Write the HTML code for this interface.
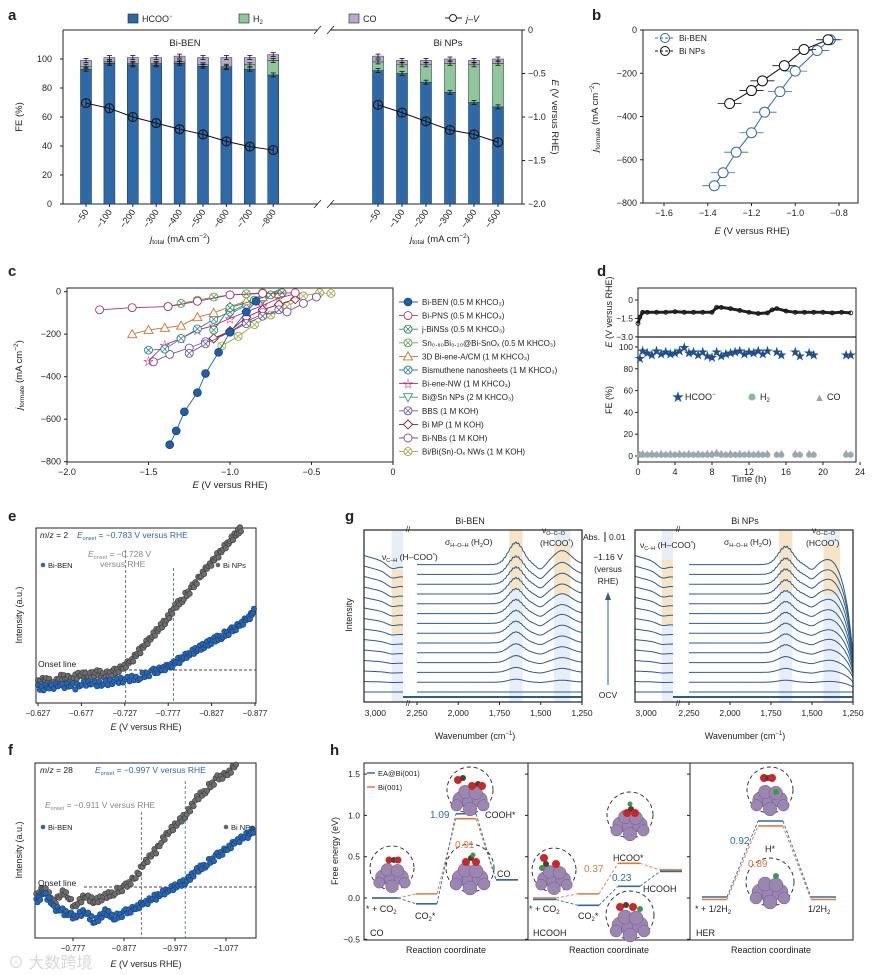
<!DOCTYPE html>
<html><head><meta charset="utf-8"><style>
html,body{margin:0;padding:0;background:#fff}
svg{display:block;font-family:"Liberation Sans","Noto Sans CJK SC",sans-serif}
text{fill:#222}
</style></head><body>
<svg id="fig" width="873" height="975" viewBox="0 0 873 975" xmlns="http://www.w3.org/2000/svg">
<g id="statics">
<g font-weight="bold" font-size="15">
<text x="8" y="20">a</text>
<text x="592" y="20">b</text>
<text x="8" y="276">c</text>
<text x="597" y="276">d</text>
<text x="8" y="521">e</text>
<text x="345" y="521">g</text>
<text x="8" y="755">f</text>
<text x="330" y="755">h</text>
</g>
<g font-size="9">
<rect x="128" y="14" width="10" height="9" fill="#2f6aa8" stroke="#222" stroke-width="0.6"/><text x="142" y="22">HCOO<tspan font-size="6" dy="-4">−</tspan></text>
<rect x="239" y="14" width="10" height="9" fill="#8fc79a" stroke="#222" stroke-width="0.6"/><text x="253" y="22">H<tspan font-size="6" dy="2">2</tspan></text>
<rect x="349" y="14" width="10" height="9" fill="#b9a9d0" stroke="#222" stroke-width="0.6"/><text x="363" y="22">CO</text>
<line x1="445" y1="18" x2="462" y2="18" stroke="#222"/><circle cx="453" cy="18" r="3.5" fill="#fff" stroke="#222"/><text x="466" y="22" font-style="italic">j–V</text>
</g>
<g font-size="9.5">
<text x="185" y="46" text-anchor="middle">Bi-BEN</text>
<text x="448" y="46" text-anchor="middle">Bi NPs</text>
<text x="22" y="117" transform="rotate(-90 22 117)" text-anchor="middle">FE (%)</text>
<text x="552" y="117" transform="rotate(90 552 117)" text-anchor="middle"><tspan font-style="italic">E</tspan> (V versus RHE)</text>
<text x="180" y="242" text-anchor="middle"><tspan font-style="italic">j</tspan><tspan font-size="6.5" dy="2">total</tspan><tspan dy="-2"> (mA cm</tspan><tspan font-size="6.5" dy="-4">−2</tspan><tspan dy="4">)</tspan></text>
<text x="440" y="242" text-anchor="middle"><tspan font-style="italic">j</tspan><tspan font-size="6.5" dy="2">total</tspan><tspan dy="-2"> (mA cm</tspan><tspan font-size="6.5" dy="-4">−2</tspan><tspan dy="4">)</tspan></text>
</g>
<g font-size="9.5">
<text x="598" y="117" transform="rotate(-90 598 117)" text-anchor="middle"><tspan font-style="italic">j</tspan><tspan font-size="6.5" dy="2">formate</tspan><tspan dy="-2"> (mA cm</tspan><tspan font-size="6.5" dy="-4">−2</tspan><tspan dy="4">)</tspan></text>
<text x="752" y="234" text-anchor="middle"><tspan font-style="italic">E</tspan> (V versus RHE)</text>
<line x1="655" y1="38" x2="675" y2="38" stroke="#2f6aa8" stroke-dasharray="3,2"/><circle cx="665" cy="38" r="4.5" fill="none" stroke="#2f6aa8"/><text x="679" y="41" font-size="8.5">Bi-BEN</text>
<line x1="655" y1="51" x2="675" y2="51" stroke="#111" stroke-dasharray="3,2"/><circle cx="665" cy="51" r="4.5" fill="none" stroke="#111"/><text x="679" y="54" font-size="8.5">Bi NPs</text>
</g>
<g font-size="9.5">
<text x="22" y="375" transform="rotate(-90 22 375)" text-anchor="middle"><tspan font-style="italic">j</tspan><tspan font-size="6.5" dy="2">formate</tspan><tspan dy="-2"> (mA cm</tspan><tspan font-size="6.5" dy="-4">−2</tspan><tspan dy="4">)</tspan></text>
<text x="230" y="488" text-anchor="middle"><tspan font-style="italic">E</tspan> (V versus RHE)</text>
</g>
<g font-size="9">
<text x="612" y="312" transform="rotate(-90 612 312)" text-anchor="middle"><tspan font-style="italic">E</tspan> (V versus RHE)</text>
<text x="612" y="400" transform="rotate(-90 612 400)" text-anchor="middle">FE (%)</text>
<text x="749" y="482" text-anchor="middle" font-size="9.5">Time (h)</text>
<text x="672" y="401" font-size="12" style="fill:#1f4f8f">★</text><text x="685" y="400">HCOO<tspan font-size="6" dy="-4">−</tspan></text>
<circle cx="752" cy="397" r="3.5" fill="#7fc08f"/><text x="760" y="400">H<tspan font-size="6" dy="2">2</tspan></text>
<text x="814" y="401" font-size="11" style="fill:#a99bc6">▲</text><text x="827" y="400">CO</text>
</g>
<g font-size="8.5">
<text x="40" y="538"><tspan font-style="italic">m</tspan>/<tspan font-style="italic">z</tspan> = 2 </text>
<text x="77" y="538" style="fill:#2f6aa8"><tspan font-style="italic">E</tspan><tspan font-size="5.5" dy="2">onset</tspan><tspan dy="-2"> = −0.783 V versus RHE</tspan></text>
<text x="88" y="557" style="fill:#888"><tspan font-style="italic">E</tspan><tspan font-size="5.5" dy="2">onset</tspan><tspan dy="-2"> = −0.728 V</tspan></text>
<text x="100" y="567" style="fill:#888">versus RHE</text>
<circle cx="43" cy="565" r="2.3" fill="#2a66b0"/><text x="48" y="568" font-size="7.5">Bi-BEN</text>
<circle cx="218" cy="565" r="2.3" fill="#666"/><text x="223" y="568" font-size="7.5">Bi NPs</text>
<text x="38" y="667">Onset line</text>
<text x="22" y="615" transform="rotate(-90 22 615)" text-anchor="middle" font-size="9">Intensity (a.u.)</text>
<text x="146" y="730" text-anchor="middle" font-size="9"><tspan font-style="italic">E</tspan> (V versus RHE)</text>
</g>
<g font-size="8.5">
<text x="40" y="773"><tspan font-style="italic">m</tspan>/<tspan font-style="italic">z</tspan> = 28</text>
<text x="95" y="773" style="fill:#2f6aa8"><tspan font-style="italic">E</tspan><tspan font-size="5.5" dy="2">onset</tspan><tspan dy="-2"> = −0.997 V versus RHE</tspan></text>
<text x="45" y="808" style="fill:#888"><tspan font-style="italic">E</tspan><tspan font-size="5.5" dy="2">onset</tspan><tspan dy="-2"> = −0.911 V versus RHE</tspan></text>
<circle cx="43" cy="827" r="2.3" fill="#2a66b0"/><text x="48" y="830" font-size="7.5">Bi-BEN</text>
<circle cx="226" cy="827" r="2.3" fill="#666"/><text x="231" y="830" font-size="7.5">Bi NPs</text>
<text x="38" y="886">Onset line</text>
<text x="22" y="850" transform="rotate(-90 22 850)" text-anchor="middle" font-size="9">Intensity (a.u.)</text>
<text x="146" y="967" text-anchor="middle" font-size="9"><tspan font-style="italic">E</tspan> (V versus RHE)</text>
</g>
<g font-size="9">
<text x="470" y="524" text-anchor="middle">Bi-BEN</text>
<text x="745" y="524" text-anchor="middle">Bi NPs</text>
<text x="352" y="615" transform="rotate(-90 352 615)" text-anchor="middle">Intensity</text>
<text x="475" y="739" text-anchor="middle">Wavenumber (cm<tspan font-size="6" dy="-4">−1</tspan><tspan dy="4">)</tspan></text>
<text x="745" y="739" text-anchor="middle">Wavenumber (cm<tspan font-size="6" dy="-4">−1</tspan><tspan dy="4">)</tspan></text>
<text x="583" y="540" font-size="8.5">Abs.</text><line x1="605" y1="532" x2="605" y2="542" stroke="#222"/><text x="609" y="540" font-size="8.5">0.01</text>
<text x="608" y="560" text-anchor="middle" font-size="8.5">−1.16 V</text>
<text x="608" y="572" text-anchor="middle" font-size="8.5">(versus</text>
<text x="608" y="584" text-anchor="middle" font-size="8.5">RHE)</text>
<line x1="608" y1="685" x2="608" y2="596" stroke="#2f5f8f"/><path d="M605,600 L608,592 L611,600 Z" fill="#2f5f8f"/>
<text x="608" y="698" text-anchor="middle" font-size="8.5">OCV</text>
<text x="382" y="560" font-size="8.5">ν<tspan font-size="5.5" dy="2">C–H</tspan><tspan dy="-2"> (H–COO</tspan><tspan font-size="5.5" dy="-3">*</tspan><tspan dy="3">)</tspan></text>
<text x="445" y="545" font-size="8.5">σ<tspan font-size="5.5" dy="2">H–O–H</tspan><tspan dy="-2"> (H</tspan><tspan font-size="5.5" dy="2">2</tspan><tspan dy="-2">O)</tspan></text>
<text x="542" y="533" font-size="8.5">ν<tspan font-size="5.5" dy="2">O–C–O</tspan></text>
<text x="540" y="546" font-size="8.5">(HCOO<tspan font-size="5.5" dy="-3">*</tspan><tspan dy="3">)</tspan></text>
<text x="640" y="548" font-size="8.5">ν<tspan font-size="5.5" dy="2">C–H</tspan><tspan dy="-2"> (H–COO</tspan><tspan font-size="5.5" dy="-3">*</tspan><tspan dy="3">)</tspan></text>
<text x="724" y="545" font-size="8.5">σ<tspan font-size="5.5" dy="2">H–O–H</tspan><tspan dy="-2"> (H</tspan><tspan font-size="5.5" dy="2">2</tspan><tspan dy="-2">O)</tspan></text>
<text x="812" y="533" font-size="8.5">ν<tspan font-size="5.5" dy="2">O–C–O</tspan></text>
<text x="806" y="546" font-size="8.5">(HCOO<tspan font-size="5.5" dy="-3">*</tspan><tspan dy="3">)</tspan></text>
</g>
<g font-size="9">
<text x="338" y="851" transform="rotate(-90 338 851)" text-anchor="middle">Free energy (eV)</text>
<line x1="367" y1="773" x2="375" y2="773" stroke="#2f6aa8" stroke-width="1.5"/><text x="378" y="776" font-size="7.5">EA@Bi(001)</text>
<line x1="367" y1="787" x2="375" y2="787" stroke="#e07a3c" stroke-width="1.5"/><text x="378" y="790" font-size="7.5">Bi(001)</text>
<text x="370" y="936">CO</text><text x="533" y="936">HCOOH</text><text x="696" y="936">HER</text>
<text x="446" y="953" text-anchor="middle">Reaction coordinate</text>
<text x="609" y="953" text-anchor="middle">Reaction coordinate</text>
<text x="771" y="953" text-anchor="middle">Reaction coordinate</text>
<text x="430" y="818" style="fill:#2f6aa8" font-size="10">1.09</text>
<text x="455" y="848" style="fill:#e07a3c" font-size="10">0.91</text>
<text x="485" y="818">COOH*</text>
<text x="497" y="877">CO</text>
<text x="366" y="912">* + CO<tspan font-size="6" dy="2">2</tspan></text>
<text x="415" y="919">CO<tspan font-size="6" dy="2">2</tspan><tspan dy="-2">*</tspan></text>
<text x="584" y="872" style="fill:#e07a3c" font-size="10">0.37</text>
<text x="612" y="881" style="fill:#2f6aa8" font-size="10">0.23</text>
<text x="613" y="861">HCOO*</text>
<text x="643" y="892">HCOOH</text>
<text x="529" y="912">* + CO<tspan font-size="6" dy="2">2</tspan></text>
<text x="578" y="919">CO<tspan font-size="6" dy="2">2</tspan><tspan dy="-2">*</tspan></text>
<text x="730" y="844" style="fill:#2f6aa8" font-size="10">0.92</text>
<text x="765" y="852">H*</text>
<text x="748" y="867" style="fill:#e07a3c" font-size="10">0.89</text>
<text x="695" y="912">* + 1/2H<tspan font-size="6" dy="2">2</tspan></text>
<text x="808" y="912">1/2H<tspan font-size="6" dy="2">2</tspan></text>
</g>
<text x="8" y="968" font-size="16" style="fill:#d8d8d8">⊙ 大数跨境</text>
</g>
</svg>
<script>
const NS='http://www.w3.org/2000/svg';
const svg=document.getElementById('fig');
function mk(tag,attrs,name){
  const e=document.createElementNS(NS,tag);
  for(const k in attrs) e.setAttribute(k,attrs[k]);
  
  
  svg.appendChild(e);return e;
}
function txt(x,y,s,size,anchor,name,color){
  const e=mk('text',{x:x,y:y,'font-size':size,'text-anchor':anchor||'start'},name);
  if(color) e.style.fill=color;
  e.textContent=s;return e;
}
function line(x1,y1,x2,y2,st,w,dash,name){
  const a={x1:x1,y1:y1,x2:x2,y2:y2,stroke:st,'stroke-width':w||1};
  if(dash) a['stroke-dasharray']=dash;
  return mk('line',a,name);
}

/* ===== Panel a data ===== */
const aCatsL=['−50','−100','−200','−300','−400','−500','−600','−700','−800'];
const aHcooL=[93,97,96,96,97,95,94,93,89];
const aH2L=[2,1,1,1,1,1,1,3,10];
const aCoL=[4,3,4,4,4,5,6,5,4];
const aEL=[-0.84,-0.90,-1.00,-1.07,-1.14,-1.20,-1.28,-1.34,-1.38];
const aCatsR=['−50','−100','−200','−300','−400','−500'];
const aHcooR=[92,90,84,77,70,67];
const aH2R=[6,6,12,20,26,30];
const aCoR=[4,3,3,3,3,3];
const aER=[-0.86,-0.95,-1.05,-1.15,-1.20,-1.29];
const aFETicks=[0,20,40,60,80,100];
const aETicks=['0','−0.5','−1.0','−1.5','−2.0'];

const aFy=v=>204-v*1.45;
const aEy=v=>30+(-v)*87;
line(63,30,63,204,'#222',1,null,'a-left-axis');
line(522,30,522,204,'#222',1,null,'a-right-axis');
line(63,30,318,30,'#222',1,null,'a-top-frame');line(330,30,522,30,'#222',1,null,'a-top-frame');
line(63,204,318,204,'#222',1,null,'a-x-axis');line(330,204,522,204,'#222',1,null,'a-x-axis');
[30,204].forEach(y=>{line(314,y+4,321,y-4,'#222',0.8,null,'a-break-mark');line(327,y+4,334,y-4,'#222',0.8,null,'a-break-mark');});
aFETicks.forEach(v=>{line(60,aFy(v),63,aFy(v),'#222',1,null,'a-fe-tick');txt(52,aFy(v)+3,String(v),9,'end','a-fe-tick-label');});
aETicks.forEach((s,i)=>{const y=aEy(-0.5*i);line(522,y,525,y,'#222',1,null,'a-e-tick');txt(528,y+3,s,9,'start','a-e-tick-label');});
function drawA(cats,hc,h2,co,E,x0,dx,side){
  const pts=[];
  cats.forEach((c,i)=>{
    const x=x0+i*dx, w=11;
    mk('rect',{x:x-w/2,y:aFy(hc[i]),width:w,height:aFy(0)-aFy(hc[i]),fill:'#2f6aa8',stroke:'#1a2a40','stroke-width':0.5},'bar-hcoo-'+side);
    mk('rect',{x:x-w/2,y:aFy(hc[i]+h2[i]),width:w,height:aFy(hc[i])-aFy(hc[i]+h2[i]),fill:'#8fc79a',stroke:'#1a2a40','stroke-width':0.5},'bar-h2-'+side);
    mk('rect',{x:x-w/2,y:aFy(hc[i]+h2[i]+co[i]),width:w,height:aFy(hc[i]+h2[i])-aFy(hc[i]+h2[i]+co[i]),fill:'#b9a9d0',stroke:'#1a2a40','stroke-width':0.5},'bar-co-'+side);
    [hc[i],hc[i]+h2[i],hc[i]+h2[i]+co[i]].forEach(v=>{line(x,aFy(v)-2,x,aFy(v)+2,'#111',0.8,null,'error-bar');line(x-2.5,aFy(v)-2,x+2.5,aFy(v)-2,'#111',0.8,null,'error-cap');line(x-2.5,aFy(v)+2,x+2.5,aFy(v)+2,'#111',0.8,null,'error-cap');});
    line(x,204,x,207,'#222',1,null,'a-x-tick');
    const t=txt(x+3,212,c,9,'end','a-x-tick-label');
    t.setAttribute('transform','rotate(-55 '+(x+3)+' 212)');
    pts.push([x,aEy(E[i])]);
  });
  mk('polyline',{points:pts.map(p=>p.join(',')).join(' '),fill:'none',stroke:'#111','stroke-width':1},'jv-line-'+side);
  pts.forEach(p=>{line(p[0],p[1]-5,p[0],p[1]+5,'#111',0.8,null,'jv-error');mk('circle',{cx:p[0],cy:p[1],r:4.5,fill:'none',stroke:'#111','stroke-width':1},'jv-point-'+side);});
}
drawA(aCatsL,aHcooL,aH2L,aCoL,aEL,86,23.4,'bi-ben');
drawA(aCatsR,aHcooR,aH2R,aCoR,aER,378,24,'bi-nps');

/* ===== Panel b data ===== */
const bBenE=[-0.84,-0.90,-1.00,-1.07,-1.14,-1.20,-1.27,-1.33,-1.37];
const bBenJ=[-45,-95,-190,-285,-380,-475,-565,-660,-720];
const bNpE=[-0.85,-0.96,-1.05,-1.15,-1.20,-1.30];
const bNpJ=[-45,-90,-165,-235,-280,-340];
const bXTicks=[-1.6,-1.4,-1.2,-1.0,-0.8];
const bYTicks=[0,-200,-400,-600,-800];
const bx=v=>664+(v+1.6)*218.75, by=v=>30+(-v)/800*173;
mk('rect',{x:643,y:30,width:215,height:173,fill:'none',stroke:'#222','stroke-width':1},'b-frame');
bXTicks.forEach(v=>{line(bx(v),203,bx(v),206,'#222',1,null,'b-x-tick');txt(bx(v),216,(v<0?'−':'')+Math.abs(v).toFixed(1),9,'middle','b-x-tick-label');});
bYTicks.forEach(v=>{line(640,by(v),643,by(v),'#222',1,null,'b-y-tick');txt(637,by(v)+3,(v<0?'−':'')+Math.abs(v),9,'end','b-y-tick-label');});
function drawB(E,J,col,name){
  mk('polyline',{points:E.map((e,i)=>bx(e)+','+by(J[i])).join(' '),fill:'none',stroke:col,'stroke-width':1},name+'-line');
  E.forEach((e,i)=>{const x=bx(e),y=by(J[i]);line(x-12,y,x+12,y,col,0.8,null,name+'-error');
    mk('circle',{cx:x,cy:y,r:5,fill:'#fff',stroke:col,'stroke-width':1},name+'-point');});
}
drawB(bBenE,bBenJ,'#2f6aa8','b-bi-ben');
drawB(bNpE,bNpJ,'#111','b-bi-nps');

/* ===== Panel c data ===== */
const cNames=['Bi-BEN (0.5 M KHCO₃)','Bi-PNS (0.5 M KHCO₃)','j-BiNSs (0.5 M KHCO₃)','Sn₀.₈₀Bi₀.₂₀@Bi-SnOₓ (0.5 M KHCO₃)','3D Bi-ene-A/CM (1 M KHCO₃)','Bismuthene nanosheets (1 M KHCO₃)','Bi-ene-NW (1 M KHCO₃)','Bi@Sn NPs (2 M KHCO₃)','BBS (1 M KOH)','Bi MP (1 M KOH)','Bi-NBs (1 M KOH)','Bi/Bi(Sn)-Oₓ NWs (1 M KOH)'];
const cColors=['#1f5fa8','#b0306a','#2a8a5a','#5aa050','#d07030','#3080a0','#c02070','#3a9a70','#6a5aa0','#8a1a2a','#7a4aa0','#9aaa40'];
const cE0=[-1.37,-1.33,-1.28,-1.20,-1.15,-1.07,-1.00,-0.90,-0.84];
const cJ0=[-720,-655,-565,-475,-385,-285,-190,-95,-45];
const cE1=[-1.80,-1.60,-1.38,-1.20,-1.00,-0.80,-0.60];
const cJ1=[-85,-75,-70,-45,-15,-8,-5];
const cE2=[-1.10,-1.00,-0.85,-0.75,-0.68];
const cJ2=[-180,-75,-40,-15,-5];
const cE3=[-1.38,-1.30,-1.20,-1.10,-1.00,-0.90,-0.80];
const cJ3=[-70,-55,-40,-25,-15,-10,-5];
const cE4=[-1.60,-1.50,-1.40,-1.30,-1.20,-1.10,-1.00,-0.90,-0.80,-0.70];
const cJ4=[-200,-180,-170,-160,-120,-100,-70,-45,-25,-10];
const cE5=[-1.50,-1.40,-1.30,-1.20,-1.10,-1.00,-0.90,-0.80,-0.70];
const cJ5=[-275,-270,-220,-175,-130,-95,-60,-30,-10];
const cE6=[-1.50,-1.40,-1.30,-1.20,-1.10,-1.00,-0.90,-0.80,-0.70,-0.60];
const cJ6=[-325,-250,-220,-180,-160,-125,-95,-65,-30,-10];
const cE7=[-1.00,-0.90,-0.80,-0.70];
const cJ7=[-105,-65,-40,-15];
const cE8=[-1.25,-1.15,-1.00,-0.90,-0.80,-0.70];
const cJ8=[-290,-245,-190,-150,-115,-85];
const cE9=[-1.10,-1.00,-0.90,-0.80,-0.70,-0.60];
const cJ9=[-220,-185,-120,-85,-60,-35];
const cE10=[-1.47,-1.37,-1.25,-1.15,-1.00,-0.90,-0.80,-0.65,-0.55,-0.47];
const cJ10=[-330,-295,-265,-235,-190,-140,-105,-95,-55,-25];
const cE11=[-1.05,-0.95,-0.85,-0.75,-0.65,-0.55,-0.45,-0.38];
const cJ11=[-255,-210,-155,-110,-70,-20,-5,-8];
const cXTicks=[-2.0,-1.5,-1.0,-0.5,0];
const cYTicks=[0,-200,-400,-600,-800];
const cEs=[cE0,cE1,cE2,cE3,cE4,cE5,cE6,cE7,cE8,cE9,cE10,cE11];
const cJs=[cJ0,cJ1,cJ2,cJ3,cJ4,cJ5,cJ6,cJ7,cJ8,cJ9,cJ10,cJ11];
const cx_=v=>393+v*163, cy_=v=>291.7-v*(170/800);
mk('rect',{x:67,y:288,width:326,height:174,fill:'none',stroke:'#222','stroke-width':1},'c-frame');
cXTicks.forEach(v=>{line(cx_(v),462,cx_(v),465,'#222',1,null,'c-x-tick');txt(cx_(v),475,v===0?'0':'−'+Math.abs(v).toFixed(1),9,'middle','c-x-tick-label');});
cYTicks.forEach(v=>{line(64,cy_(v),67,cy_(v),'#222',1,null,'c-y-tick');txt(61,cy_(v)+3,(v<0?'−':'')+Math.abs(v),9,'end','c-y-tick-label');});
function marker(x,y,k,col,name){
  if(k===0){mk('circle',{cx:x,cy:y,r:4,fill:col,stroke:'#0d3366','stroke-width':0.6},name);return;}
  if(k===4||k===7){const d=k===4?'M'+x+','+(y-4.5)+' L'+(x+4.5)+','+(y+3.5)+' L'+(x-4.5)+','+(y+3.5)+'Z':'M'+x+','+(y+4.5)+' L'+(x+4.5)+','+(y-3.5)+' L'+(x-4.5)+','+(y-3.5)+'Z';mk('path',{d:d,fill:'#fff',stroke:col,'stroke-width':0.9},name);return;}
  if(k===9){mk('path',{d:'M'+x+','+(y-4.5)+' L'+(x+4.5)+','+y+' L'+x+','+(y+4.5)+' L'+(x-4.5)+','+y+'Z',fill:'#fff',stroke:col,'stroke-width':0.9},name);return;}
  if(k===6){const t=mk('text',{x:x,y:y+4,'font-size':11,'text-anchor':'middle'},name);t.style.fill=col;t.textContent='☆';return;}
  mk('circle',{cx:x,cy:y,r:4,fill:'#fff',stroke:col,'stroke-width':0.9},name);
  if(k===2||k===3||k===5||k===8||k===11){line(x-2.8,y-2.8,x+2.8,y+2.8,col,0.8,null,name+'-x');line(x-2.8,y+2.8,x+2.8,y-2.8,col,0.8,null,name+'-x');}
}
for(let k=cEs.length-1;k>=0;k--){
  const E=cEs[k],J=cJs[k],col=cColors[k];
  mk('polyline',{points:E.map((e,i)=>cx_(e)+','+cy_(J[i])).join(' '),fill:'none',stroke:col,'stroke-width':0.9},'c-series-line-'+k);
  E.forEach((e,i)=>marker(cx_(e),cy_(J[i]),k,col,'c-point-'+k));
}
cNames.forEach((n,k)=>{const y=302+k*13.6;line(399,y,418,y,cColors[k],0.9,null,'c-legend-line');marker(408,y,k,cColors[k],'c-legend-marker');txt(422,y+3,n,8,'start','c-legend-entry');});

/* ===== Panel d data ===== */
const dETimes=[0,0.2,0.5,1,2,3,4,5,6,7,8,8.5,9,10,11,12,13,14,14.5,15,16,17,18,19,20,21,22,23];
const dEVals=[-1.9,-1.4,-1.0,-1.0,-1.0,-1.0,-0.95,-1.0,-1.0,-1.0,-1.0,-0.6,-0.6,-0.7,-0.85,-1.0,-1.1,-1.05,-0.8,-0.7,-0.9,-1.0,-1.0,-1.0,-1.0,-1.05,-1.0,-1.05];
const dFTimes=[0.2,0.5,1,1.5,2,2.5,3,3.5,4,4.5,5,5.5,6,6.5,7,7.5,8,8.5,9,9.5,10,10.5,11,11.5,12,12.5,13,13.5,14,15,15.5,17,17.5,18.5,19,22.5,23];
const dHcoo=[90,97,95,93,97,94,96,94,95,97,100,95,96,93,96,92,91,96,92,94,95,96,97,94,96,95,97,94,97,96,93,96,92,95,93,93,93];
const dH2=[1,1,1,1,1,1,1,1,1,1,1,1,1,1,1,1,1,2,1,1,1,1,1,1,1,1,1,1,1,1,1,1,1,1,1,1,1];
const dCo=[3,4,3,4,3,4,3,4,3,4,3,4,3,4,3,4,4,5,4,3,4,3,4,3,4,3,4,3,4,3,4,4,3,4,3,4,3];
const dXTicks=[0,4,8,12,16,20,24];
const dx_=t=>638+t*9.25, dEy=v=>300-v*12.3, dFy=v=>456-v*1.09;
mk('rect',{x:638,y:288,width:218,height:174,fill:'none',stroke:'#222','stroke-width':1},'d-frame');
line(638,337,856,337,'#222',1.2,null,'d-divider');
dXTicks.forEach(t=>{line(dx_(t),462,dx_(t),465,'#222',1,null,'d-x-tick');txt(dx_(t),475,String(t),9,'middle','d-x-tick-label');});
[[0,'0'],[-1.5,'−1.5'],[-3.0,'−3.0']].forEach(p=>{line(635,dEy(p[0]),638,dEy(p[0]),'#222',1,null,'d-e-tick');txt(633,dEy(p[0])+3,p[1],8.5,'end','d-e-tick-label');});
[0,20,40,60,80,100].forEach(v=>{line(635,dFy(v),638,dFy(v),'#222',1,null,'d-fe-tick');txt(633,dFy(v)+3,String(v),8.5,'end','d-fe-tick-label');});
mk('polyline',{points:dETimes.map((t,i)=>dx_(t)+','+dEy(dEVals[i])).join(' '),fill:'none',stroke:'#222','stroke-width':3},'d-potential-trace');
dETimes.forEach((t,i)=>mk('circle',{cx:dx_(t),cy:dEy(dEVals[i]),r:2,fill:'none',stroke:'#111','stroke-width':0.8},'d-potential-point'));
dFTimes.forEach((t,i)=>{
  txt(dx_(t),dFy(dHcoo[i])+4,'★',11,'middle','d-hcoo-star','#1f4f8f');
  mk('circle',{cx:dx_(t),cy:dFy(dH2[i]),r:3,fill:'#7fc08f'},'d-h2-point');
  txt(dx_(t),dFy(dCo[i])+4,'▲',10,'middle','d-co-triangle','#a99bc6');
});

/* ===== Panel e data ===== */
const eNpE=[-0.627,-0.635,-0.645,-0.655,-0.665,-0.675,-0.685,-0.695,-0.705,-0.715,-0.725,-0.735,-0.745,-0.755,-0.765,-0.775,-0.785,-0.795,-0.805,-0.815,-0.825,-0.835,-0.845,-0.855,-0.862];
const eNpI=[0.6,0.75,0.6,0.8,0.7,0.85,0.8,0.9,0.85,0.95,1.1,1.3,1.6,1.9,2.2,2.5,2.9,3.2,3.5,3.9,4.2,4.5,4.8,5.1,5.3];
const eBenE=[-0.627,-0.64,-0.655,-0.67,-0.685,-0.70,-0.715,-0.73,-0.745,-0.76,-0.77,-0.78,-0.79,-0.80,-0.81,-0.82,-0.83,-0.84,-0.85,-0.86,-0.87,-0.877];
const eBenI=[0.45,0.5,0.55,0.5,0.6,0.55,0.65,0.7,0.8,0.95,1.05,1.15,1.3,1.45,1.6,1.75,1.9,2.05,2.2,2.4,2.6,2.8];
const eXTicks=[-0.627,-0.677,-0.727,-0.777,-0.827,-0.877];
const ex_=v=>38+(-0.627-v)/0.25*217, ey_=v=>703-v*33;
mk('rect',{x:36,y:528,width:220,height:175,fill:'none',stroke:'#222','stroke-width':1},'e-frame');
eXTicks.forEach(v=>{line(ex_(v),703,ex_(v),706,'#222',1,null,'e-x-tick');txt(ex_(v),716,'−'+Math.abs(v).toFixed(3),8,'middle','e-x-tick-label');});
line(84,670,256,670,'#444',1,'3,2','e-onset-line');
line(ex_(-0.728),550,ex_(-0.728),703,'#555',0.8,'3,2','e-onset-gray');
line(ex_(-0.783),568,ex_(-0.783),703,'#2f6aa8',0.8,'3,2','e-onset-blue');
const jit=[-3,2,-1,3,-2,1,0,-3,2];
function scatter(E,I,fx,fy,fill,st,name){
  for(let i=0;i<E.length-1;i++){
    for(let s=0;s<6;s++){
      const f=s/6, x=fx(E[i]+(E[i+1]-E[i])*f), y=fy(I[i]+(I[i+1]-I[i])*f)+jit[(i+s)%9];
      mk('circle',{cx:x,cy:y,r:2.7,fill:fill,stroke:st,'stroke-width':0.6},name);
    }
  }
}
scatter(eNpE,eNpI,ex_,ey_,'#6e6e6e','#3a3a3a','e-bi-nps-point');
scatter(eBenE,eBenI,ex_,ey_,'#2a66b0','#123f78','e-bi-ben-point');

/* ===== Panel f data ===== */
const fNpE=[-0.705,-0.72,-0.74,-0.76,-0.78,-0.80,-0.82,-0.84,-0.86,-0.88,-0.90,-0.92,-0.94,-0.96,-0.98,-1.00,-1.02,-1.04,-1.06,-1.08,-1.10];
const fNpI=[0.8,1.0,0.7,0.9,0.6,0.8,0.7,0.8,0.9,1.0,1.2,1.5,1.7,2.0,2.2,2.4,2.7,2.9,3.1,3.2,3.4];
const fBenE=[-0.705,-0.72,-0.74,-0.76,-0.78,-0.80,-0.82,-0.84,-0.86,-0.88,-0.90,-0.92,-0.94,-0.96,-0.98,-1.00,-1.02,-1.04,-1.06,-1.08,-1.10,-1.12,-1.133];
const fBenI=[0.7,0.9,0.6,0.5,0.4,0.5,0.3,0.5,0.4,0.5,0.6,0.7,0.8,0.9,1.0,1.1,1.3,1.45,1.6,1.75,1.9,2.0,2.1];
const fXTicks=[-0.777,-0.877,-0.977,-1.077];
const fx_=v=>73+(-0.777-v)/0.1*51, fy_=v=>938-v*51.5;
mk('rect',{x:35,y:763,width:221,height:175,fill:'none',stroke:'#222','stroke-width':1},'f-frame');
fXTicks.forEach(v=>{line(fx_(v),938,fx_(v),941,'#222',1,null,'f-x-tick');txt(fx_(v),951,'−'+Math.abs(v).toFixed(3),8,'middle','f-x-tick-label');});
line(84,887,256,887,'#444',1,'3,2','f-onset-line');
line(fx_(-0.911),812,fx_(-0.911),938,'#555',0.8,'3,2','f-onset-gray');
line(fx_(-0.997),781,fx_(-0.997),938,'#2f6aa8',0.8,'3,2','f-onset-blue');
scatter(fNpE,fNpI,fx_,fy_,'#6e6e6e','#3a3a3a','f-bi-nps-point');
scatter(fBenE,fBenI,fx_,fy_,'#2a66b0','#123f78','f-bi-ben-point');

/* ===== Panel g data ===== */
const gBenPeak1650=[0,3,5,7,9,11,12,13,14,15,16,17,18,22];
const gBenPeak1390=[0,2,4,5,6,7,8,9,9,10,10,11,12,14];
const gNpPeak1650=[0,2,4,6,8,9,10,11,12,13,14,15,16,18];
const gNpPeak1380=[0,1,2,3,4,5,5,6,6,7,7,8,8,9];
const gNpEndDrop=[0,5,10,15,22,29,36,43,50,57,64,72,82,95];
const gXTicks=[2250,2000,1750,1500,1250];
const gauss=(w,c,s)=>Math.exp(-((w-c)*(w-c))/(2*s*s));
function gPanel(x0,brk,xs,xe,peaksA,peaksB,drop,pA,pB,name){
  const wx=w=>xs+(2250-w)/1000*(xe-xs);
  const lx=w=>x0+(3070-w)/240*(brk-x0);
  mk('rect',{x:lx(2900),y:530,width:brk-lx(2900),height:172,fill:'#e7eef7'},name+'-band-ch');
  mk('rect',{x:lx(2900),y:530+(name==='g-bi-ben'?40:30),width:brk-lx(2900),height:65,fill:'#f6e4c4'},name+'-band-ch-top');
  mk('rect',{x:wx(pA+40),y:530,width:wx(pA-40)-wx(pA+40),height:172,fill:'#e7eef7'},name+'-band-water');
  mk('rect',{x:wx(pA+40),y:530,width:wx(pA-40)-wx(pA+40),height:60,fill:'#f6e4c4'},name+'-band-water-top');
  mk('rect',{x:wx(pB+50),y:530,width:wx(pB-50)-wx(pB+50),height:172,fill:'#e7eef7'},name+'-band-ococ');
  mk('rect',{x:wx(pB+50),y:545,width:wx(pB-50)-wx(pB+50),height:50,fill:'#f6e4c4'},name+'-band-ococ-top');
  for(let i=0;i<14;i++){
    const base=692-i*9.8;
    let p1='',p2='';
    for(let w=3070;w>=2830;w-=10){const y=base+i*0.9*(3070-w)/240 - i*0.7 + 4.5*i/13*gauss(w,2900,30);p1+=(p1?' L':'M')+lx(w).toFixed(1)+','+y.toFixed(1);}
    for(let w=2250;w>=1250;w-=5){
      let y=base - peaksA[i]*gauss(w,pA,45) - peaksB[i]*gauss(w,pB,55) + i*0.4*gauss(w,1500,25)
        - Math.sin(w*0.9)*0.9*(i/13)*gauss(w,pA,70) + drop[i]*Math.exp(-(w-1250)/45);
      p2+=(p2?' L':'M')+wx(w).toFixed(1)+','+y.toFixed(1);
    }
    mk('path',{d:p1,fill:'none',stroke:'#2a5d8f','stroke-width':1},name+'-spectrum');
    mk('path',{d:p2,fill:'none',stroke:'#2a5d8f','stroke-width':1},name+'-spectrum');
  }
  mk('rect',{x:x0,y:530,width:xe-x0,height:172,fill:'none',stroke:'#222','stroke-width':1.2},name+'-frame');
  mk('rect',{x:brk+1,y:531,width:xs-brk-3,height:170,fill:'#fff'},name+'-break-gap');
  line(brk,697,xe,697,'#2a5d8f',2,null,name+'-ocv-line');
  txt(lx(3000),716,'3,000',8.5,'middle',name+'-x-tick-label');
  gXTicks.forEach(v=>{line(wx(v),702,wx(v),705,'#222',1,null,name+'-x-tick');txt(wx(v),716,v.toLocaleString('en-US'),8.5,'middle',name+'-x-tick-label');});
  txt(brk+5,706,'//',8,'middle',name+'-axis-break');
  txt(brk+5,532,'//',8,'middle',name+'-axis-break');
}
gPanel(364,403,417,582,gBenPeak1650,gBenPeak1390,gBenPeak1650.map(()=>0),1650,1370,'g-bi-ben');
gPanel(635,673,689,853,gNpPeak1650,gNpPeak1380,gNpEndDrop,1660,1380,'g-bi-nps');

/* ===== Panel h data ===== */
const hCoBlue=[0,-0.07,1.02,0.22];
const hCoOrange=[0,0.05,0.96,0.22];
const hHcoohBlue=[0,-0.07,0.16,0.34];
const hHcoohOrange=[0,0.05,0.42,0.34];
const hHerBlue=[0,0.92,0];
const hHerOrange=[0,0.89,0];
const hYTicks=[1.5,1.0,0.5,0,-0.5];
const hy=v=>898-v*82.6;
mk('rect',{x:364,y:763,width:489,height:177,fill:'none',stroke:'#222','stroke-width':1},'h-frame');
line(528,763,528,940,'#222',1,null,'h-divider');line(690,763,690,940,'#222',1,null,'h-divider');
hYTicks.forEach(v=>{line(364,hy(v),367,hy(v),'#222',1,null,'h-y-tick');txt(360,hy(v)+3,(v<0?'−':'')+Math.abs(v).toFixed(1),8.5,'end','h-y-tick-label');
  [528,690].forEach(x=>line(x-3,hy(v),x,hy(v),'#222',1,null,'h-y-tick'));});
function levels(vals,slots,col,dash,name,off){
  vals.forEach((v,i)=>{
    line(slots[i][0],hy(v)+off,slots[i][1],hy(v)+off,col,1.6,null,name+'-level');
    if(i>0) line(slots[i-1][1],hy(vals[i-1])+off,slots[i][0],hy(v)+off,col,0.9,dash,name+'-connector');
  });
}
const slotsCo=[[372,398],[416,437],[456,476],[496,518]];
const slotsH=[[533,556],[578,599],[618,640],[660,682]];
const slotsHer=[[702,727],[758,783],[811,836]];
levels(hCoOrange,slotsCo,'#e07a3c','3,2','h-co-bi001',0);
levels(hCoBlue,slotsCo,'#2f6aa8','3,2','h-co-ea',0);
levels(hHcoohOrange,slotsH,'#e07a3c','3,2','h-hcooh-bi001',0);
levels(hHcoohBlue,slotsH,'#2f6aa8','3,2','h-hcooh-ea',1.5);
levels(hHerOrange,slotsHer,'#e07a3c','3,2','h-her-bi001',1.5);
levels(hHerBlue,slotsHer,'#2f6aa8','3,2','h-her-ea',-1);
function cartoon(cx,cy,r,atoms,name){
  mk('circle',{cx:cx,cy:cy,r:r,fill:'none',stroke:'#222','stroke-width':0.9,'stroke-dasharray':'4,3'},name);
  [[-10,10,8],[0,12,8],[10,10,8],[-5,2,7],[6,3,7],[-14,16,6],[14,16,6],[0,20,7]].forEach(p=>mk('circle',{cx:cx+p[0]*r/24,cy:cy+p[1]*r/24,r:p[2]*r/24,fill:'#9a86b0',stroke:'#6f5c85','stroke-width':0.5},name+'-bi-atom'));
  atoms.forEach(a=>mk('circle',{cx:cx+a[0],cy:cy+a[1],r:a[2],fill:a[3]},name+'-atom'));
}
cartoon(392,868,22,[[-3,-8,3.5,'#c8282a'],[2,-8,3,'#5a3a2a'],[6,-8,3.5,'#c8282a']],'h-cartoon-co2');
cartoon(470,790,23,[[-12,-10,4,'#c8282a'],[-7,-12,3,'#5a3a2a'],[2,-4,4,'#c8282a'],[8,-6,3,'#5a3a2a'],[12,-4,4,'#c8282a']],'h-cartoon-cooh');
cartoon(470,868,24,[[-4,-6,4,'#c8282a'],[1,-10,3,'#5a3a2a'],[3,-13,2.5,'#3a9a4a'],[6,-6,4,'#c8282a']],'h-cartoon-co');
cartoon(554,870,22,[[-10,-12,4,'#c8282a'],[-8,-6,3,'#5a3a2a'],[2,-6,4,'#c8282a'],[-12,-2,3,'#3a9a4a']],'h-cartoon-hcooh-start');
cartoon(630,815,23,[[-3,-2,4,'#c8282a'],[1,-6,3,'#5a3a2a'],[0,-11,2.5,'#3a9a4a'],[5,-2,4,'#c8282a']],'h-cartoon-hcoo');
cartoon(630,915,24,[[-10,-8,4,'#c8282a'],[-4,-10,3,'#5a3a2a'],[3,-8,4,'#c8282a'],[10,-6,3,'#3a9a4a']],'h-cartoon-hcooh');
cartoon(770,790,23,[[-6,-12,4,'#c8282a'],[-2,-12,3,'#5a3a2a'],[2,-12,4,'#c8282a'],[6,2,3,'#3a9a4a']],'h-cartoon-h-star');
cartoon(770,882,24,[[6,-6,3,'#3a9a4a']],'h-cartoon-h2');
// bring static text to front
svg.appendChild(document.getElementById('statics'));
</script>
</body></html>
